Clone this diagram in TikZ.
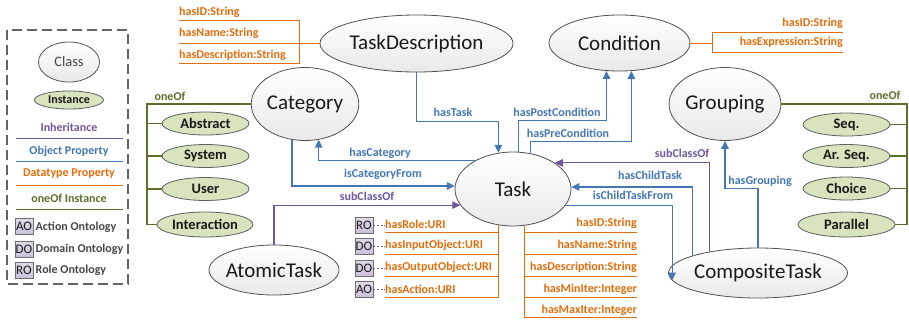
\documentclass[tikz,border=0pt]{standalone}
\usepackage{fontspec}
\setmainfont{Carlito}
\usetikzlibrary{shapes.geometric,arrows.meta,backgrounds}

\definecolor{objblue}{RGB}{66,118,181}
\definecolor{inhpurple}{RGB}{112,86,160}
\definecolor{dtorange}{RGB}{228,108,10}
\definecolor{onegreen}{RGB}{92,112,46}
\definecolor{instfill}{RGB}{215,228,189}
\definecolor{instline}{RGB}{95,95,95}
\definecolor{clsfill}{RGB}{233,233,233}
\definecolor{clsline}{RGB}{80,80,80}
\definecolor{ontofill}{RGB}{204,192,218}
\definecolor{ontoline}{RGB}{110,110,110}
\definecolor{legtext}{RGB}{70,70,70}
\definecolor{legframe}{RGB}{100,100,100}

\tikzset{
  cls/.style={ellipse, draw=clsline, line width=0.8pt, top color=white,
    bottom color=clsfill, inner sep=0pt, text=black!90,
    font=\fontsize{21}{24}\selectfont},
  inst/.style={ellipse, draw=instline, line width=0.8pt, fill=instfill,
    inner sep=0pt, minimum width=87pt, minimum height=23pt, text=black!90,
    font=\bfseries\fontsize{14.5}{16}\selectfont},
  lbl/.style={inner sep=0pt, font=\bfseries\fontsize{12}{14}\selectfont},
  objlbl/.style={lbl, text=objblue},
  inhlbl/.style={lbl, text=inhpurple},
  dtlbl/.style={lbl, text=dtorange},
  onelbl/.style={lbl, text=onegreen},
  leglbl/.style={lbl, text=legtext},
  obj/.style={draw=objblue, line width=1.1pt, -{Triangle[length=8pt,width=7.5pt]}},
  inh/.style={draw=inhpurple, line width=1.1pt, -{Triangle[length=8pt,width=7.5pt]}},
  dt/.style={draw=dtorange, line width=1pt},
  one/.style={draw=onegreen, line width=1.1pt},
  onto/.style={rectangle, draw=ontoline, line width=0.8pt, top color=ontofill!60,
    bottom color=ontofill, minimum width=18pt, minimum height=16pt,
    inner sep=0pt, text=black!90, font=\fontsize{13}{14}\selectfont},
  ontolink/.style={draw=inhpurple, line width=0.9pt, dash pattern=on 2pt off 1.6pt},
  legline/.style={line width=1pt},
}

\begin{document}
\begin{tikzpicture}[x=1pt, y=-1pt]
\useasboundingbox (0,0) rectangle (909,322);

% ---------- legend ----------
\draw[legframe, line width=1.2pt, dash pattern=on 10pt off 5pt] (7,30) rectangle (128,284);
\node[cls, minimum width=61pt, minimum height=40pt, text=legtext,
      font=\fontsize{14.5}{16}\selectfont] (legClass) at (69,62) {Class};
\node[inst, minimum width=69pt, minimum height=18pt,
      font=\bfseries\fontsize{12}{14}\selectfont] (legInst) at (69,100) {Instance};
\node[inhlbl] (legInh) at (69,127) {Inheritance};
\draw[legline, inhpurple] (16,138) -- (123,138);
\node[objlbl] (legObj) at (69,151) {Object Property};
\draw[legline, objblue] (16,161) -- (123,161);
\node[dtlbl] (legDt) at (69,174) {Datatype Property};
\draw[legline, dtorange] (16,185) -- (123,185);
\node[onelbl] (legOne) at (69,198) {oneOf Instance};
\draw[legline, onegreen] (16,209) -- (123,209);
\node[onto] (legAO) at (24,226.5) {AO};
\node[leglbl, anchor=west] at (35.5,227) {Action Ontology};
\node[onto] (legDO) at (24,249) {DO};
\node[leglbl, anchor=west] at (35.5,249) {Domain Ontology};
\node[onto] (legRO) at (24,270) {RO};
\node[leglbl, anchor=west] at (35.5,270) {Role Ontology};

% ---------- classes ----------
\node[cls, minimum width=193pt, minimum height=57pt] (TD) at (416.5,43.5) {TaskDescription};
\node[cls, minimum width=141pt, minimum height=56pt] (Cond) at (619.5,43) {Condition};
\node[cls, minimum width=106pt, minimum height=73pt] (Cat) at (305,104) {Category};
\node[cls, minimum width=106pt, minimum height=73pt] (Grp) at (725,104) {Grouping};
\node[cls, minimum width=116pt, minimum height=74pt] (Task) at (513,189) {Task};
\node[cls, minimum width=130pt, minimum height=50pt, inner xsep=-4pt] (Atomic) at (274,270) {AtomicTask};
\node[cls, minimum width=179pt, minimum height=50pt, inner xsep=-2pt] (Comp) at (758,273) {CompositeTask};

% ---------- instances ----------
\node[inst] (Abs) at (205.5,123.5) {Abstract};
\node[inst] (Sys) at (205.5,156) {System};
\node[inst] (Usr) at (205.5,189) {User};
\node[inst, minimum width=96pt, minimum height=25pt] (Int) at (205,224.5) {Interaction};
\node[inst] (Seq) at (846.5,124.5) {Seq.};
\node[inst] (ASeq) at (846.5,156) {Ar. Seq.};
\node[inst] (Cho) at (846.5,188.5) {Choice};
\node[inst, minimum width=97pt, minimum height=25pt] (Par) at (846.5,224.5) {Parallel};

% ---------- oneOf enumerations ----------
\node[onelbl] (oneL) at (170,96) {oneOf};
\coordinate (busL) at (147,104);
\draw[one] (Cat.west) -- (busL) |- (Int.west);
\foreach \n in {Abs,Sys,Usr} \draw[one] (busL |- \n.west) -- (\n.west);

\node[onelbl] (oneR) at (885,95) {oneOf};
\coordinate (busR) at (907,104);
\draw[one] (Grp.east) -- (busR) |- (Par.east);
\foreach \n in {Seq,ASeq,Cho} \draw[one] (busR |- \n.east) -- (\n.east);

% ---------- datatype properties of TaskDescription ----------
\node[dtlbl, anchor=west] (tdID) at (179,12) {hasID:String};
\node[dtlbl, anchor=west] (tdName) at (179,33) {hasName:String};
\node[dtlbl, anchor=west] (tdDesc) at (179,55) {hasDescription:String};
\draw[dt] (TD.west) -- (TD.west -| tdName.west);
\draw[dt] (tdID.west |- 0,20) -| (299,63) -- (tdDesc.west |- 0,63);

% ---------- datatype properties of Condition ----------
\node[dtlbl, anchor=east] (cID) at (843,23) {hasID:String};
\node[dtlbl, anchor=east] (cExp) at (843,42) {hasExpression:String};
\draw[dt] (Cond.east) -- (712,43);
\draw[dt] (cID.east |- 0,32) -| (712,52) -- (cExp.east |- 0,52);

% ---------- datatype properties of Task (URI side) ----------
\node[dtlbl, anchor=west] (lRole) at (385,224) {hasRole:URI};
\node[dtlbl, anchor=west] (lIn) at (385,245) {hasInputObject:URI};
\node[dtlbl, anchor=west] (lOut) at (385,267) {hasOutputObject:URI};
\node[dtlbl, anchor=west] (lAct) at (385,289) {hasAction:URI};
\draw[dt] (Task.248.7) |- (lAct.west |- 0,297);
\foreach \yy in {232,254,276} \draw[dt] (499,\yy) -- (385,\yy);

\node[onto] (oRO) at (364,225) {RO};
\node[onto] (oDI) at (364,246) {DO};
\node[onto] (oDO) at (364,268) {DO};
\node[onto] (oAO) at (364,289.5) {AO};
\draw[ontolink] (oRO.east) -- (oRO.east -| lRole.west);
\draw[ontolink] (oDI.east) -- (oDI.east -| lIn.west);
\draw[ontolink] (oDO.east) -- (oDO.east -| lOut.west);
\draw[ontolink] (oAO.east) -- (oAO.east -| lAct.west);

% ---------- datatype properties of Task (literal side) ----------
\node[dtlbl, anchor=east] (rID) at (637,223) {hasID:String};
\node[dtlbl, anchor=east] (rName) at (637,245) {hasName:String};
\node[dtlbl, anchor=east] (rDesc) at (637,267) {hasDescription:String};
\node[dtlbl, anchor=east] (rMin) at (637,289) {hasMinIter:Integer};
\node[dtlbl, anchor=east] (rMax) at (637,310) {hasMaxIter:Integer};
\draw[dt] (Task.288.3) |- (rMax.east |- 0,317);
\foreach \yy in {232,254,276,297} \draw[dt] (525,\yy) -- (637,\yy);

% ---------- object properties ----------
\draw[obj] (TD.south) -- ++(0,49.5) -| (Task.112.8);
\node[objlbl] at (453,112) {hasTask};

\draw[obj] (Task.82.3) -- ++(0,-31) -| (Cond.245.6);
\node[objlbl] at (557,112) {hasPostCondition};

\draw[obj] (Task.64.3) -- ++(0,-11.6) -| (Cond.-67.4);
\node[objlbl] at (568,133) {hasPreCondition};

\draw[obj] (Task.143.55) -| (Cat.-69.8);
\node[objlbl] at (380,153) {hasCategory};

\draw[obj] (Cat.-110.2) |- (Task.177);
\node[objlbl] at (383,174) {isCategoryFrom};

\draw[obj] (Comp.165.6) |- (Task.2.97);
\node[objlbl] at (650,175) {hasChildTask};

\draw[obj] (Task.-17) -| (Comp.185.85);
\node[objlbl] at (633,195) {isChildTaskFrom};

\draw[obj] (Comp.north) -- ++(0,-59) -| (Grp.south);
\node[objlbl] at (760,181) {hasGrouping};

% ---------- inheritance ----------
\draw[inh] (Atomic.north) |- (Task.197);
\node[inhlbl] at (367,196) {subClassOf};

\draw[inh] (Comp.156.9) |- (Task.32.2);
\node[inhlbl] at (682,153) {subClassOf};
\end{tikzpicture}
\end{document}
